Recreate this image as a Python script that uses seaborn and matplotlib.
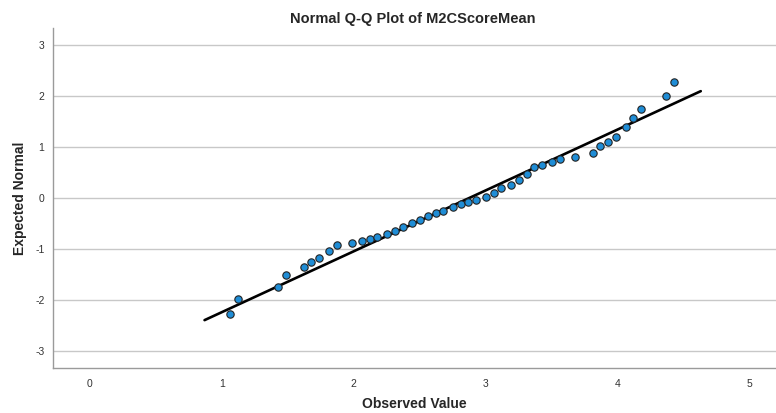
import matplotlib
matplotlib.use("Agg")
import matplotlib.pyplot as plt
import seaborn as sns
import numpy as np
import pandas as pd

observed = [1.06, 1.12, 1.43, 1.49, 1.62, 1.68, 1.74, 1.81, 1.87, 1.99,
            2.06, 2.12, 2.18, 2.25, 2.31, 2.37, 2.44, 2.50, 2.56, 2.62,
            2.68, 2.75, 2.81, 2.87, 2.93, 3.00, 3.06, 3.12, 3.19, 3.25,
            3.31, 3.37, 3.43, 3.50, 3.56, 3.68, 3.81, 3.87, 3.93, 3.99,
            4.06, 4.12, 4.18, 4.37, 4.43]
expected = [-2.27, -1.98, -1.74, -1.51, -1.36, -1.26, -1.17, -1.03, -0.93, -0.89,
            -0.85, -0.81, -0.76, -0.70, -0.64, -0.56, -0.49, -0.43, -0.35, -0.29,
            -0.25, -0.17, -0.11, -0.07, -0.03, 0.03, 0.09, 0.19, 0.26, 0.36,
            0.48, 0.61, 0.65, 0.71, 0.77, 0.81, 0.89, 1.01, 1.09, 1.20,
            1.39, 1.57, 1.75, 2.00, 2.28]

# reference line: normal with the sample mean / sd
ref_mean = 2.875
ref_sd = 0.838
line_x = [0.87, 4.63]

x_ticks = [0, 1, 2, 3, 4, 5]
y_ticks = [-3, -2, -1, 0, 1, 2, 3]

df = pd.DataFrame({'observed': observed, 'expected': expected})
line_df = pd.DataFrame({'x': line_x})
line_df['y'] = (line_df['x'] - ref_mean) / ref_sd

sns.set_style("white")
plt.rcParams['font.family'] = ['Liberation Sans', 'DejaVu Sans']
plt.rcParams['axes.unicode_minus'] = False

fig = plt.figure(figsize=(7.76, 4.13), dpi=100)
ax = fig.add_axes([0.068, 0.109, 0.932, 0.823])

sns.lineplot(data=line_df, x='x', y='y', color='black', linewidth=1.9, ax=ax, zorder=2)
sns.scatterplot(data=df, x='observed', y='expected', color='#1f8dd6', edgecolor='#222222',
                linewidth=0.8, s=28, ax=ax, zorder=3)

ax.set_xlim(-0.28, 5.2)
ax.set_ylim(-3.33, 3.33)
ax.set_xticks(x_ticks)
ax.set_yticks(y_ticks)
ax.yaxis.grid(True, color='#c8c8c8', linewidth=1)
ax.xaxis.grid(False)
ax.set_axisbelow(True)
ax.tick_params(axis='both', length=0, labelsize=7.5, colors='#333333')
ax.tick_params(axis='x', pad=8)
ax.tick_params(axis='y', pad=6)

for side in ['top', 'right']:
    ax.spines[side].set_visible(False)
for side in ['left', 'bottom']:
    ax.spines[side].set_color('#9a9a9a')
    ax.spines[side].set_linewidth(1)

ax.set_xlabel('Observed Value', fontsize=10, fontweight='bold')
ax.set_ylabel('Expected Normal', fontsize=10, fontweight='bold')
ax.xaxis.set_label_coords(0.5, -0.086)
ax.yaxis.set_label_coords(-0.036, 0.5)
fig.suptitle('Normal Q-Q Plot of M2CScoreMean', fontsize=10.5, fontweight='bold',
             x=0.532, y=0.97)

fig.savefig('out.png', dpi=100)
